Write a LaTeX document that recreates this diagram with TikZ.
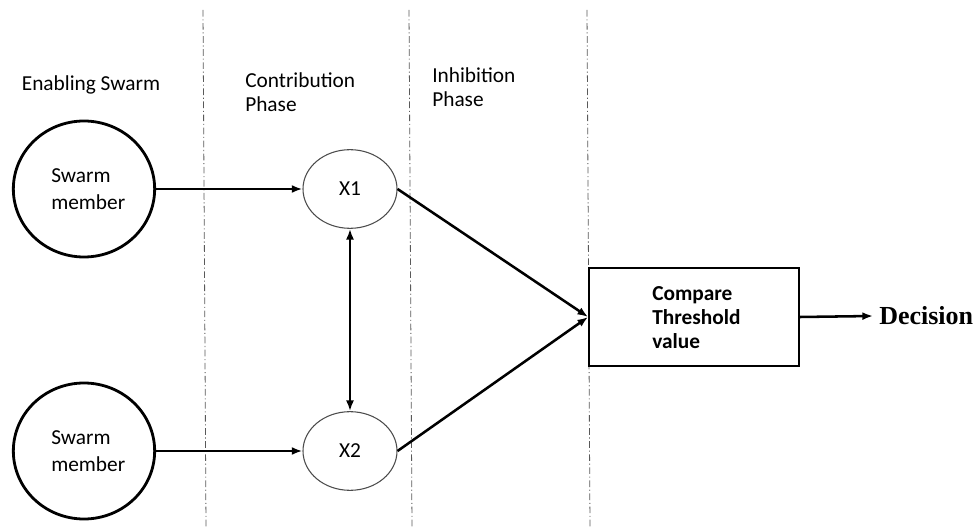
\documentclass[tikz,border=0pt]{standalone}
\usepackage{fontspec}
\setmainfont{Carlito}
\newfontfamily\deciFont{Liberation Serif}
\usetikzlibrary{shapes.geometric,arrows.meta}
\begin{document}
\begin{tikzpicture}[x=0.75pt,y=-0.75pt,
  lab/.style={font=\fontsize{16}{18}\selectfont, align=left, inner sep=0pt},
  bigcirc/.style={draw, ellipse, line width=2.1pt, minimum width=106pt, minimum height=102pt, inner sep=0pt},
  xnode/.style={draw=black!70, ellipse, line width=0.8pt, minimum width=70.5pt, minimum height=59pt, inner sep=0pt, font=\fontsize{16}{18}\selectfont},
  cmpbox/.style={draw, line width=1.3pt, minimum width=157.5pt, minimum height=73.5pt, inner sep=0pt},
  divider/.style={draw=black!65, line width=0.6pt, dash pattern=on 5pt off 2pt on 0.8pt off 2pt},
  arr/.style={line width=1.9pt, -{Latex[length=8pt,width=6pt]}}
]
\useasboundingbox (0,0) rectangle (975,527);
% dividers
\coordinate (d1t) at (203,10); \coordinate (d1b) at (206,527);
\coordinate (d2t) at (409,10); \coordinate (d2b) at (412,527);
\coordinate (d3t) at (587,10); \coordinate (d3b) at (590,527);
\draw[divider] (d1t) -- (d1b);
\draw[divider] (d2t) -- (d2b);
\draw[divider] (d3t) -- (d3b);
% headers
\node[lab] (h1) at (91,85) {Enabling Swarm};
\node[lab, anchor=west] (h2) at (245,92) {Contribution\\Phase};
\node[lab, anchor=west] (h3) at (432,87) {Inhibition\\Phase};
% nodes
\node[bigcirc] (s1) at (84,189) {};
\node[bigcirc] (s2) at (84,451) {};
\node[lab, anchor=west, font=\fontsize{16}{20}\selectfont] (s1t) at (51,189) {Swarm\\member};
\node[lab, anchor=west, font=\fontsize{16}{20}\selectfont] (s2t) at (51,451) {Swarm\\member};
\node[xnode] (x1) at (350,189) {X1};
\node[xnode] (x2) at (350,451) {X2};
\node[cmpbox] (cb) at (694,317) {};
\node[lab, anchor=west, font=\fontsize{16}{18}\selectfont\bfseries] (cbt) at (652,318) {Compare\\Threshold\\value};
\node[inner sep=0pt, anchor=west, font=\deciFont\fontsize{19.5}{22}\selectfont\bfseries] (dec) at (879,316) {Decision};
% connectors
\draw[arr] (s1.east) -- (x1.west);
\draw[arr] (s2.east) -- (x2.west);
\draw[line width=1.9pt, {Latex[length=8pt,width=6pt]}-{Latex[length=8pt,width=6pt]}] (x1.south) -- (x2.north);
\draw[arr] (x1.east) -- (cb.west);
\draw[arr] (x2.east) -- (cb.west);
\draw[arr] (cb.east) -- ([xshift=-4.5pt]dec.west);
\end{tikzpicture}
\end{document}
